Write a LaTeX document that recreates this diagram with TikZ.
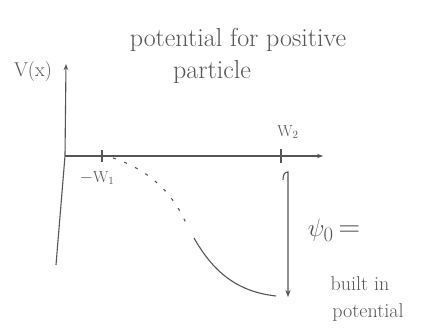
\documentclass[tikz,border=0pt]{standalone}
\usetikzlibrary{arrows.meta}
\definecolor{pen}{RGB}{85,85,85}
\begin{document}
\begin{tikzpicture}[x=1pt,y=-1pt,
  pen/.style={draw=pen,line width=1.1pt},
  lbl/.style={text=pen,font=\fontsize{20}{22}\selectfont,inner sep=0pt}]
\useasboundingbox (0,0) rectangle (429,328);
\fill[white] (0,0) rectangle (429,328);
% axes
\coordinate (o) at (65,156);
\coordinate (ytop) at (66,64);
\coordinate (ybot) at (56,265);
\coordinate (xend) at (323,156);
\draw[pen,-{Stealth[length=6pt]}] (ybot) -- (o) -- (ytop);
\draw[pen,-{Stealth[length=6pt]}] (o) -- (xend);
% ticks
\coordinate (t1) at (102,156);
\coordinate (t2) at (281,156);
\draw[pen] ([yshift=-6]t1) -- ([yshift=6]t1);
\draw[pen] ([yshift=-7]t2) -- ([yshift=7]t2);
% labels
\node[lbl] (V) at (33,72) {V(x)};
\node[lbl,font=\fontsize{16}{18}\selectfont] (w2) at (288,132) {W$_2$};
\node[lbl,font=\fontsize{16}{18}\selectfont] (w1) at (97,178) {$-$W$_1$};
\node[lbl,font=\fontsize{26}{28}\selectfont] (title1) at (238,40) {potential for positive};
\node[lbl,font=\fontsize{26}{28}\selectfont] (title2) at (212,72) {particle};
% potential curve
\draw[pen,dash pattern=on 3pt off 9pt] (113,158) .. controls (150,170) and (175,195) .. (188,228);
\draw[pen] (194,238) .. controls (215,275) and (240,292) .. (276,296);
% built-in potential arrow
\coordinate (atop) at (288,172);
\coordinate (abot) at (288,297);
\draw[pen,-{Stealth[length=7pt]}] (283,180) .. controls (283,174) and (285,172) .. (atop) -- (abot);
\node[lbl,font=\fontsize{30}{32}\selectfont] (psi) at (334,230) {$\psi_0$\,=};
\node[lbl] (b1) at (360,284) {built in};
\node[lbl] (b2) at (368,313) {potential};
\end{tikzpicture}
\end{document}
